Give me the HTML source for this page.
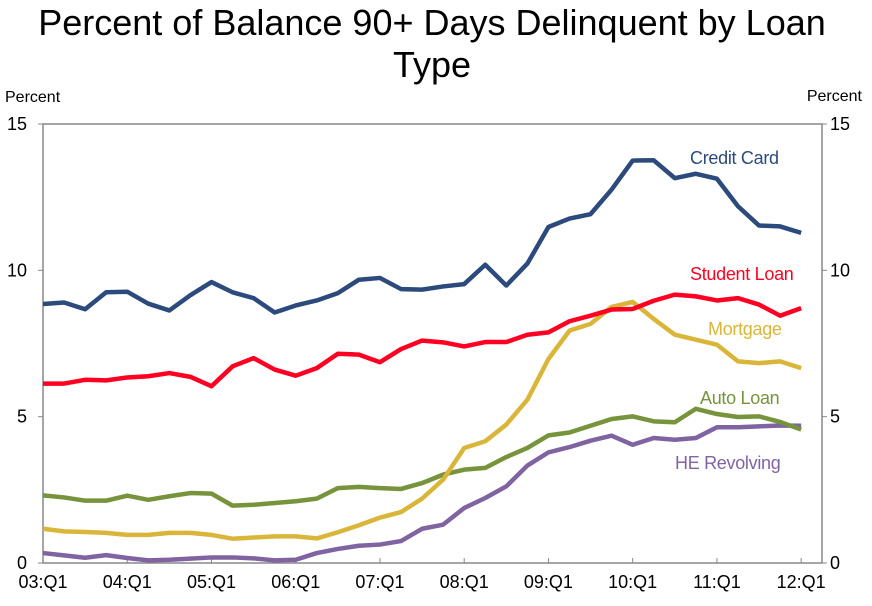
<!DOCTYPE html>
<html><head><meta charset="utf-8"><style>
body{margin:0;background:#fff;}
svg text{font-family:"Liberation Sans",Arial,sans-serif;}
</style></head><body>
<svg width="872" height="601" viewBox="0 0 872 601">
<text x="432" y="35" font-size="36" text-anchor="middle">Percent of Balance 90+ Days Delinquent by Loan</text>
<text x="432" y="77" font-size="36" text-anchor="middle">Type</text>
<text x="5" y="102" font-size="16">Percent</text>
<text x="862" y="101" font-size="16" text-anchor="end">Percent</text>
<g id="axes"></g>
<g id="series"></g>
<g id="labels"></g>
</svg>
<script>
const quarterTickLabels=["03:Q1","04:Q1","05:Q1","06:Q1","07:Q1","08:Q1","09:Q1","10:Q1","11:Q1","12:Q1"];
const yTicks=[0,5,10,15];
const creditCard=[8.85,8.9,8.67,9.25,9.27,8.86,8.63,9.15,9.6,9.25,9.05,8.56,8.8,8.97,9.22,9.68,9.74,9.36,9.34,9.45,9.53,10.19,9.48,10.23,11.48,11.77,11.92,12.76,13.75,13.76,13.15,13.3,13.13,12.19,11.53,11.5,11.28];
const studentLoan=[6.13,6.13,6.26,6.24,6.34,6.38,6.49,6.36,6.04,6.72,7.0,6.61,6.4,6.66,7.15,7.12,6.86,7.31,7.6,7.54,7.4,7.55,7.55,7.8,7.88,8.26,8.45,8.66,8.68,8.96,9.17,9.11,8.97,9.05,8.83,8.45,8.71];
const mortgage=[1.17,1.08,1.06,1.03,0.96,0.96,1.03,1.03,0.96,0.83,0.87,0.91,0.91,0.84,1.05,1.29,1.55,1.74,2.2,2.85,3.93,4.16,4.73,5.58,6.97,7.94,8.17,8.75,8.92,8.34,7.8,7.63,7.46,6.89,6.83,6.89,6.66];
const autoLoan=[2.31,2.24,2.13,2.13,2.3,2.16,2.28,2.39,2.37,1.96,1.99,2.05,2.11,2.2,2.56,2.6,2.56,2.53,2.73,3.02,3.19,3.25,3.62,3.93,4.36,4.46,4.69,4.92,5.01,4.84,4.81,5.27,5.09,4.99,5.01,4.82,4.56];
const heRevolving=[0.34,0.26,0.18,0.27,0.17,0.09,0.11,0.15,0.19,0.19,0.16,0.09,0.11,0.34,0.48,0.59,0.63,0.75,1.17,1.31,1.88,2.22,2.62,3.33,3.78,3.96,4.18,4.35,4.04,4.27,4.21,4.27,4.64,4.64,4.67,4.7,4.69];

const NS="http://www.w3.org/2000/svg";
const L=43,R=822,T=124,B=563,STEP=21.06;
const xs=i=>L+i*STEP;
const ys=v=>B-(v/15)*(B-T);
function mk(tag,attrs,parent){const e=document.createElementNS(NS,tag);for(const k in attrs)e.setAttribute(k,attrs[k]);parent.appendChild(e);return e;}
const axes=document.getElementById('axes');
const frame=mk('rect',{x:L,y:T,width:R-L,height:B-T,fill:'none',stroke:'#888','stroke-width':1.5},axes);


yTicks.forEach(v=>{
  const y=ys(v);
  const a=mk('line',{x1:L-5,x2:L,y1:y,y2:y,stroke:'#888'},axes);
  
  
  const b=mk('line',{x1:R,x2:R+5,y1:y,y2:y,stroke:'#888'},axes);
  
  
  const t1=mk('text',{x:27,y:y+6,'font-size':18,'text-anchor':'end'},axes);t1.textContent=v;
  
  
  const t2=mk('text',{x:830,y:y+6,'font-size':18},axes);t2.textContent=v;
  
  
});
quarterTickLabels.forEach((lab,k)=>{
  const x=xs(k*4);
  const tk=mk('line',{x1:x,x2:x,y1:B,y2:B-5,stroke:'#888'},axes);
  
  
  const t=mk('text',{x:x,y:B+25,'font-size':18,'text-anchor':'middle'},axes);t.textContent=lab;
  
  
});
const series=[
 {d:heRevolving,c:'#8064a2',n:'he-revolving-line'},
 {d:autoLoan,c:'#77933c',n:'auto-loan-line'},
 {d:mortgage,c:'#d9b63a',n:'mortgage-line'},
 {d:studentLoan,c:'#ff0022',n:'student-loan-line'},
 {d:creditCard,c:'#2c4a7c',n:'credit-card-line'}];
const sg=document.getElementById('series');
series.forEach(s=>{
  const p=mk('polyline',{points:s.d.map((v,i)=>xs(i)+','+ys(v)).join(' '),fill:'none',stroke:s.c,'stroke-width':4.5,'stroke-linejoin':'round'},sg);
  
  
});
const labs=[["Credit Card",690,164,'#2c4a7c','credit-card-label'],["Student Loan",690,280,'#ff0022','student-loan-label'],["Mortgage",708,335,'#d9b63a','mortgage-label'],["Auto Loan",700,404,'#77933c','auto-loan-label'],["HE Revolving",675,469,'#8064a2','he-revolving-label']];
const lg=document.getElementById('labels');
labs.forEach(l=>{
  const t=mk('text',{x:l[1],y:l[2],'font-size':18,fill:l[3],'letter-spacing':'-0.3'},lg);t.textContent=l[0];
  
  
});
</script>
</body></html>
